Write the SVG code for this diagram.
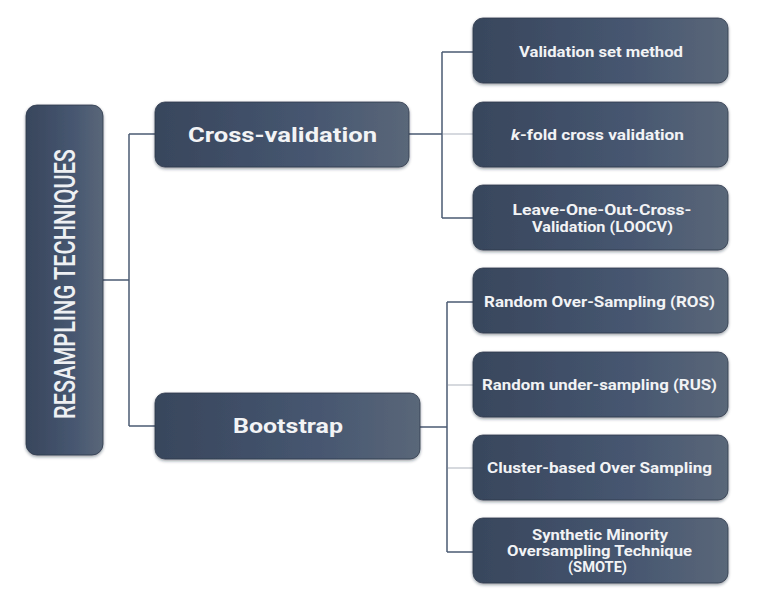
<svg xmlns="http://www.w3.org/2000/svg" width="777" height="592" viewBox="0 0 777 592">
<defs>
<linearGradient id="g" x1="0" y1="0" x2="1" y2="0">
<stop offset="0" stop-color="#38465c"/>
<stop offset="0.6" stop-color="#465670"/>
<stop offset="1" stop-color="#5a6779"/>
</linearGradient>
<filter id="sh" x="-10%" y="-10%" width="120%" height="130%">
<feDropShadow dx="0" dy="1.5" stdDeviation="1.5" flood-color="#1c2533" flood-opacity="0.45"/>
</filter>
</defs>
<style>
.box{fill:url(#g);filter:url(#sh);stroke:#2e3a4d;stroke-width:0.8}
.t{font-family:Roboto,"DejaVu Sans",sans-serif;font-weight:bold;fill:#f2f3f5;text-anchor:middle;font-size:14.5px}
.big{font-size:21px}
.root{font-family:Roboto,"DejaVu Sans",sans-serif;font-weight:500;fill:#eef0f3;text-anchor:middle;font-size:29px}
.dk{fill:none;stroke:#4b5b73;stroke-width:1.5}
.lt{fill:none;stroke:#c9cdd4;stroke-width:1.5}
</style>
<rect width="777" height="592" fill="#ffffff"/>
<g id="connectors">
<path class="dk" d="M103 280 H129 M129 134 V426 M129 134 H155 M129 426 H155"/>
<path class="dk" d="M409 134 H442 M442 52 V218 M442 52 H473 M442 218 H473"/>
<path class="lt" d="M443 134 H473"/>
<path class="dk" d="M420 427 H447 M447 302 V552 M447 302 H473 M447 552 H473"/>
<path class="lt" d="M448 385 H473 M448 468 H473"/>
</g>
<g id="root">
<rect class="box" x="26" y="105" width="77" height="350" rx="11"/>
<text class="root" transform="translate(75 284) rotate(-90)" textLength="270" lengthAdjust="spacingAndGlyphs">RESAMPLING TECHNIQUES</text>
</g>
<g id="cross-validation">
<rect class="box" x="155" y="102" width="254" height="65" rx="10"/>
<text class="t big" x="282.5" y="142" textLength="189" lengthAdjust="spacingAndGlyphs">Cross-validation</text>
</g>
<g id="bootstrap">
<rect class="box" x="155" y="393" width="265" height="66" rx="10"/>
<text class="t big" x="288" y="433" textLength="110" lengthAdjust="spacingAndGlyphs">Bootstrap</text>
</g>
<g id="validation-set">
<rect class="box" x="473" y="18" width="255" height="65" rx="10"/>
<text class="t" x="601" y="57" textLength="164" lengthAdjust="spacingAndGlyphs">Validation set method</text>
</g>
<g id="kfold">
<rect class="box" x="473" y="102" width="255" height="65" rx="10"/>
<text class="t" x="597.5" y="140" textLength="173" lengthAdjust="spacingAndGlyphs"><tspan font-style="italic">k</tspan>-fold cross validation</text>
</g>
<g id="loocv">
<rect class="box" x="473" y="185" width="255" height="65" rx="10"/>
<text class="t" x="602" y="214.5" textLength="179" lengthAdjust="spacingAndGlyphs">Leave-One-Out-Cross-</text>
<text class="t" x="602.5" y="232" textLength="141" lengthAdjust="spacingAndGlyphs">Validation (LOOCV)</text>
</g>
<g id="ros">
<rect class="box" x="473" y="268" width="255" height="65" rx="10"/>
<text class="t" x="599.5" y="307" textLength="231" lengthAdjust="spacingAndGlyphs">Random Over-Sampling (ROS)</text>
</g>
<g id="rus">
<rect class="box" x="473" y="352" width="255" height="65" rx="10"/>
<text class="t" x="599.5" y="390" textLength="235" lengthAdjust="spacingAndGlyphs">Random under-sampling (RUS)</text>
</g>
<g id="cluster">
<rect class="box" x="473" y="435" width="255" height="65" rx="10"/>
<text class="t" x="599.5" y="473" textLength="225" lengthAdjust="spacingAndGlyphs">Cluster-based Over Sampling</text>
</g>
<g id="smote">
<rect class="box" x="473" y="518" width="255" height="65" rx="10"/>
<text class="t" x="600" y="540" textLength="136" lengthAdjust="spacingAndGlyphs">Synthetic Minority</text>
<text class="t" x="599.5" y="556" textLength="185" lengthAdjust="spacingAndGlyphs">Oversampling Technique</text>
<text class="t" x="597.5" y="572" textLength="59" lengthAdjust="spacingAndGlyphs">(SMOTE)</text>
</g>
</svg>
